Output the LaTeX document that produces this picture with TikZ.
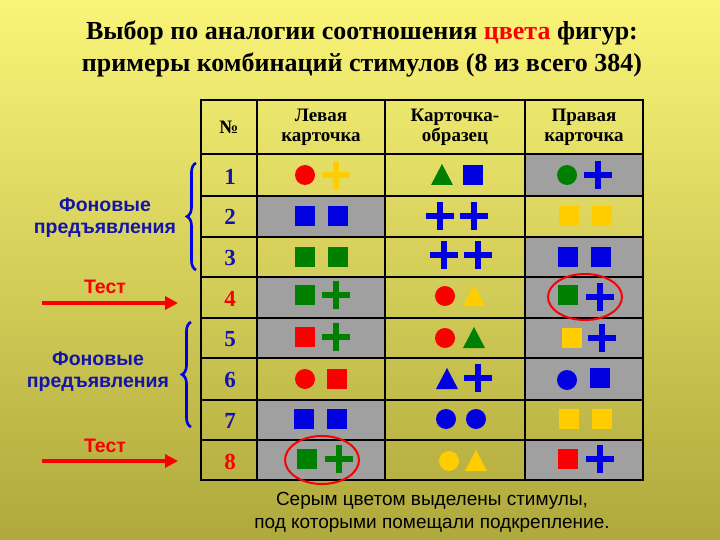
\documentclass[tikz,border=0pt]{standalone}
\usepackage{fontspec}
\setmainfont{Liberation Serif}
\setsansfont{Liberation Sans}
\usetikzlibrary{decorations.pathreplacing,arrows.meta}
\definecolor{bgtop}{RGB}{250,245,120}
\definecolor{bgbot}{RGB}{175,168,60}
\definecolor{cgrey}{RGB}{160,160,160}
\definecolor{cred}{RGB}{250,0,0}
\definecolor{cgreen}{RGB}{0,128,0}
\definecolor{cblue}{RGB}{0,0,225}
\definecolor{cyel}{RGB}{255,205,0}
\definecolor{tblue}{RGB}{20,20,170}
\newcommand{\Sq}[3]{\fill[#3] (#1-10,#2-10) rectangle (#1+10,#2+10);}
\newcommand{\Ci}[3]{\fill[#3] (#1,#2) circle (10);}
\newcommand{\Tr}[3]{\fill[#3] (#1-11,#2+10) -- (#1+11,#2+10) -- (#1,#2-11) -- cycle;}
\newcommand{\Cr}[3]{\fill[#3] (#1-14,#2-3) rectangle (#1+14,#2+3); \fill[#3] (#1-3,#2-14) rectangle (#1+3,#2+14);}
\begin{document}
\begin{tikzpicture}[x=1pt,y=-1pt,
  hdr/.style={font=\fontsize{19}{20}\selectfont\bfseries,align=center},
  num/.style={font=\fontsize{23}{24}\selectfont\bfseries,text=tblue},
  lab/.style={font=\sffamily\bfseries\fontsize{19.5}{22}\selectfont,text=tblue,align=center},
  tst/.style={font=\sffamily\bfseries\fontsize{19.5}{22}\selectfont,text=cred},
  arr/.style={draw=cred,line width=4.5pt,-{Triangle[length=13pt,width=13pt]}},
  brc/.style={draw=cblue,line width=2.6pt,decorate,decoration={brace,amplitude=9pt}}]
\useasboundingbox (0,0) rectangle (720,540);
\shade[top color=bgtop,bottom color=bgbot] (0,0) rectangle (720,540);
% title
\node[font=\fontsize{26}{32}\selectfont\bfseries,align=center] (title) at (362,49)
 {Выбор по аналогии соотношения \textcolor{cred}{цвета} фигур:\\примеры комбинаций стимулов (8 из всего 384)};
% grey cells
\fill[cgrey] (525,154) rectangle (643,196);
\fill[cgrey] (257,196) rectangle (385,237);
\fill[cgrey] (525,237) rectangle (643,277);
\fill[cgrey] (257,277) rectangle (385,318);
\fill[cgrey] (525,277) rectangle (643,318);
\fill[cgrey] (257,318) rectangle (385,358);
\fill[cgrey] (525,318) rectangle (643,358);
\fill[cgrey] (525,358) rectangle (643,400);
\fill[cgrey] (257,400) rectangle (385,440);
\fill[cgrey] (257,440) rectangle (385,480);
\fill[cgrey] (525,440) rectangle (643,480);
% grid
\draw[line width=1.8pt] (201,100) rectangle (643,480);
\foreach \x in {257,385,525} \draw[line width=1.8pt] (\x,100) -- (\x,480);
\foreach \y in {154,196,237,277,318,358,400,440} \draw[line width=1.8pt] (201,\y) -- (643,\y);
% headers
\node[hdr] (h0) at (229,127) {№};
\node[hdr] (h1) at (321,127) {Левая\\карточка};
\node[hdr] (h2) at (455,127) {Карточка-\\образец};
\node[hdr] (h3) at (584,127) {Правая\\карточка};
% numbers
\node[num] (n1) at (230,177) {1};
\node[num] (n2) at (230,217) {2};
\node[num] (n3) at (230,258) {3};
\node[num,text=cred] (n4) at (230,299) {4};
\node[num] (n5) at (230,339) {5};
\node[num] (n6) at (230,380) {6};
\node[num] (n7) at (230,421) {7};
\node[num,text=cred] (n8) at (230,462) {8};
% row 1
\Ci{305}{175}{cred}\Cr{336}{175}{cyel}
\Tr{442}{175}{cgreen}\Sq{473}{175}{cblue}
\Ci{567}{175}{cgreen}\Cr{598}{175}{cblue}
% row 2
\Sq{305}{216}{cblue}\Sq{338}{216}{cblue}
\Cr{440}{216}{cblue}\Cr{474}{216}{cblue}
\Sq{569}{216}{cyel}\Sq{602}{216}{cyel}
% row 3
\Sq{305}{257}{cgreen}\Sq{338}{257}{cgreen}
\Cr{444}{255}{cblue}\Cr{478}{255}{cblue}
\Sq{568}{257}{cblue}\Sq{601}{257}{cblue}
% row 4
\Sq{305}{295}{cgreen}\Cr{336}{295}{cgreen}
\Ci{445}{296}{cred}\Tr{474}{296}{cyel}
\Sq{568}{295}{cgreen}\Cr{600}{297}{cblue}
\draw[cred,line width=2pt] (585,297) ellipse (37 and 23);
% row 5
\Sq{305}{337}{cred}\Cr{336}{337}{cgreen}
\Ci{445}{338}{cred}\Tr{474}{338}{cgreen}
\Sq{572}{338}{cyel}\Cr{602}{338}{cblue}
% row 6
\Ci{305}{379}{cred}\Sq{337}{379}{cred}
\Tr{447}{379}{cblue}\Cr{478}{378}{cblue}
\Ci{567}{380}{cblue}\Sq{600}{378}{cblue}
% row 7
\Sq{304}{419}{cblue}\Sq{337}{419}{cblue}
\Ci{446}{419}{cblue}\Ci{476}{419}{cblue}
\Sq{569}{419}{cyel}\Sq{602}{419}{cyel}
% row 8
\Sq{307}{459}{cgreen}\Cr{339}{459}{cgreen}
\draw[cred,line width=2pt] (322,460) ellipse (37 and 24);
\Ci{449}{461}{cyel}\Tr{476}{461}{cyel}
\Sq{568}{459}{cred}\Cr{600}{459}{cblue}
% left labels
\node[lab] (f1) at (105,218) {Фоновые\\предъявления};
\node[lab] (f2) at (98,372) {Фоновые\\предъявления};
\node[tst] (t1) at (105,287) {Тест};
\node[tst] (t2) at (105,446) {Тест};
\coordinate (a1s) at (42,303); \coordinate (a1e) at (178,303);
\coordinate (a2s) at (42,461); \coordinate (a2e) at (178,461);
\draw[arr] (a1s) -- (a1e);
\draw[arr] (a2s) -- (a2e);
\coordinate (b1a) at (196,270); \coordinate (b1b) at (196,163);
\coordinate (b2a) at (191,427); \coordinate (b2b) at (191,322);
\draw[brc] (b1a) -- (b1b);
\draw[brc] (b2a) -- (b2b);
% bottom note
\node[font=\sffamily\fontsize{19}{23}\selectfont,align=center] (note) at (432,512)
 {Серым цветом выделены стимулы,\\под которыми помещали подкрепление.};
\end{tikzpicture}
\end{document}
